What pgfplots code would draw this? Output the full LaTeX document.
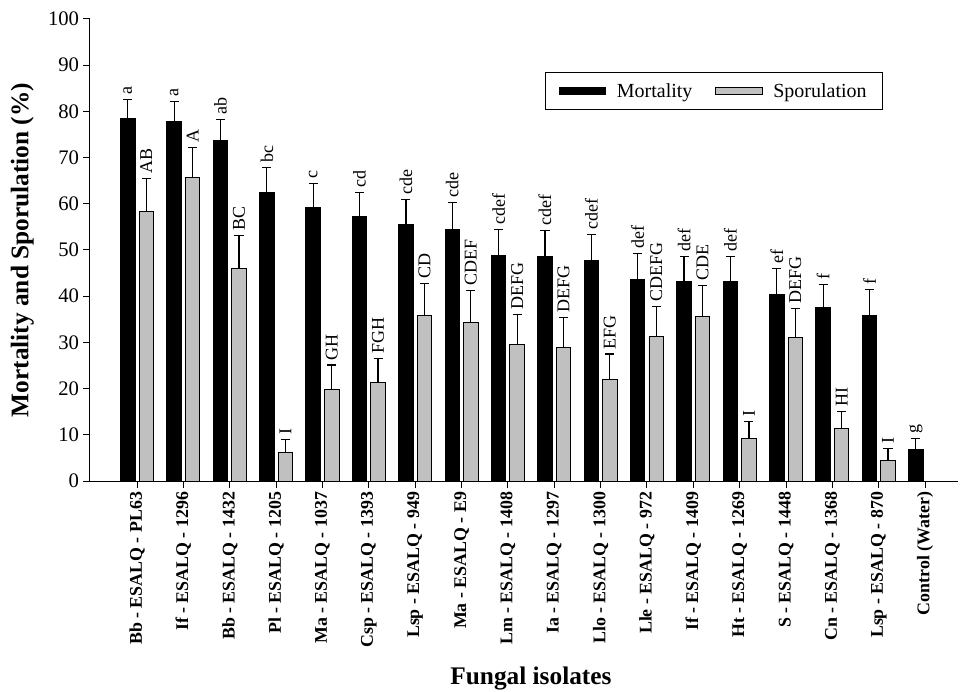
\documentclass[border=0pt]{standalone}
\usepackage{fontspec}
\setmainfont{Liberation Serif}
\usepackage{pgfplots}
\usepackage{pgfplotstable}
\pgfplotsset{compat=1.18}
\definecolor{sgrey}{RGB}{192,192,192}

\pgfplotstableread{
x  m    me  mt   ml   s    se  st   sl
0  78.5 4.1 82.6 a    58.3 7.1 65.4 AB
1  77.9 4.3 82.2 a    65.6 6.6 72.2 A
2  73.6 4.6 78.2 ab   45.9 7.2 53.1 BC
3  62.5 5.3 67.8 bc   6.2  2.8 9.0  I
4  59.2 5.2 64.4 c    19.9 5.2 25.1 GH
5  57.3 5.2 62.5 cd   21.3 5.2 26.5 FGH
6  55.5 5.5 61.0 cde  35.8 6.9 42.7 CD
7  54.5 5.8 60.3 cde  34.3 7.0 41.3 CDEF
8  48.8 5.7 54.5 cdef 29.5 6.6 36.1 DEFG
9  48.6 5.6 54.2 cdef 29.0 6.4 35.4 DEFG
10 47.8 5.6 53.4 cdef 21.9 5.6 27.5 EFG
11 43.7 5.5 49.2 def  31.2 6.5 37.7 CDEFG
12 43.2 5.4 48.6 def  35.7 6.7 42.4 CDE
13 43.2 5.4 48.6 def  9.3  3.6 12.9 I
14 40.4 5.6 46.0 ef   31.0 6.4 37.4 DEFG
15 37.5 5.1 42.6 f    11.4 3.7 15.1 HI
16 35.9 5.5 41.4 f    4.5  2.5 7.0  I
17 6.9  2.3 9.2  g    nan  0   nan  -
}\datatable

\begin{document}
\begin{tikzpicture}
\begin{axis}[
  at={(0,0)}, anchor=south west,
  scale only axis, width=651pt, height=346.5pt,
  xmin=-1.015, xmax=17.71, ymin=0, ymax=100,
  axis x line*=bottom, axis y line*=left,
  axis line style={line width=0.75pt},
  tick align=outside, major tick length=5pt,
  every tick/.style={black, line width=0.75pt},
  xtick={0,...,17}, ytick={0,10,...,100},
  xticklabels={Bb - ESALQ - PL63, If - ESALQ - 1296, Bb - ESALQ - 1432, Pl - ESALQ - 1205, Ma - ESALQ - 1037, Csp - ESALQ - 1393, Lsp - ESALQ - 949, Ma - ESALQ - E9, Lm - ESALQ - 1408, Ia - ESALQ - 1297, Llo - ESALQ - 1300, Lle - ESALQ - 972, If - ESALQ - 1409, Ht - ESALQ - 1269, S - ESALQ - 1448, Cn - ESALQ - 1368, Lsp - ESALQ - 870, Control (Water)},
  xticklabel style={rotate=90, anchor=east, font=\bfseries\fontsize{13.4}{15}\selectfont, inner sep=3pt},
  yticklabel style={font=\fontsize{15.5}{17}\selectfont, inner sep=3pt},
  /pgf/number format/assume math mode=true,
  ylabel={Mortality and Sporulation (\%)},
  xlabel={Fungal isolates},
  ylabel style={at={(axis description cs:-0.078,0.5)}, anchor=center, font=\bfseries\fontsize{19}{22}\selectfont},
  xlabel style={at={(axis description cs:0.508,-0.392)}, anchor=north, font=\bfseries\fontsize{19}{22}\selectfont},
  bar width=0.313,
  clip=false,
  legend columns=2,
  legend cell align=left,
  legend style={at={(axis description cs:0.524,0.885)}, anchor=north west, draw=black, line width=0.75pt,
    font=\fontsize{15}{18}\selectfont, inner xsep=10pt, inner ysep=6pt,
    /tikz/column 2/.style={column sep=15pt}},
  legend image code/.code={\draw[#1, line width=0.6pt] (0pt,-2.6pt) rectangle (35pt,2.6pt); \path (41pt,0pt);},
]
\addplot[ybar, bar shift=0, fill=black, draw=black, line width=0.7pt,
  error bars/.cd, y dir=plus, y explicit, error mark=-,
  error bar style={line width=0.9pt, black},
  error mark options={rotate=90, line width=0.9pt, mark size=3.4pt, black}]
  table[x expr=\thisrow{x}-0.2, y=m, y error=me] {\datatable};
\addlegendentry{Mortality}
\addplot[ybar, bar shift=0, fill=sgrey, draw=black, line width=0.7pt,
  error bars/.cd, y dir=plus, y explicit, error mark=-,
  error bar style={line width=0.9pt, black},
  error mark options={rotate=90, line width=0.9pt, mark size=3.4pt, black}]
  table[x expr=\thisrow{x}+0.2, y=s, y error=se] {\datatable};
\addlegendentry{Sporulation}
\addplot[forget plot, only marks, mark=*, mark size=0pt, point meta=explicit symbolic,
  nodes near coords,
  nodes near coords style={rotate=90, anchor=west, inner xsep=3.5pt, inner ysep=0pt, font=\fontsize{13.5}{15}\selectfont, black}]
  table[x expr=\thisrow{x}-0.2, y=mt, meta=ml] {\datatable};
\addplot[forget plot, only marks, mark=*, mark size=0pt, point meta=explicit symbolic,
  nodes near coords,
  nodes near coords style={rotate=90, anchor=west, inner xsep=3.5pt, inner ysep=0pt, font=\fontsize{13.5}{15}\selectfont, black}]
  table[x expr=\thisrow{x}+0.2, y=st, meta=sl] {\datatable};
\end{axis}
\pgfresetboundingbox
\path (-67.5pt,-158.25pt) rectangle (652.5pt,360.75pt);
\end{tikzpicture}
\end{document}
